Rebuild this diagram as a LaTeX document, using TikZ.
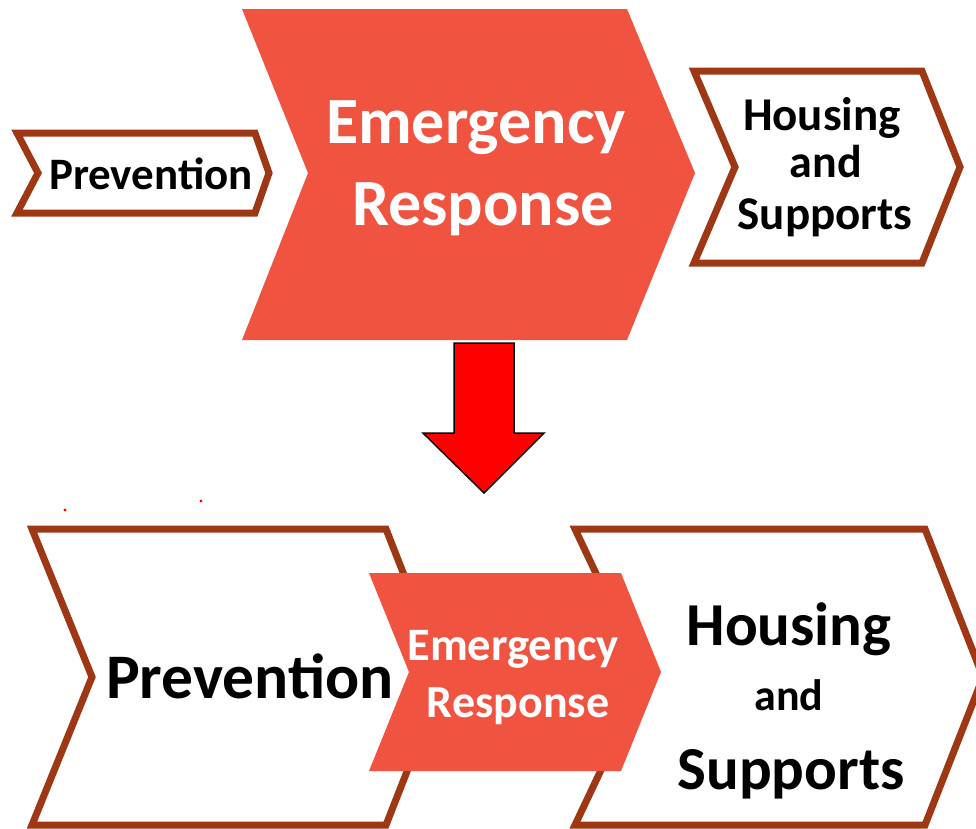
\documentclass[tikz,border=0pt]{standalone}
\usepackage{fontspec}
\setmainfont{Carlito}
\definecolor{chevred}{RGB}{241,83,65}
\definecolor{chevbrown}{RGB}{158,55,20}
\definecolor{arrowred}{RGB}{255,0,0}
\begin{document}
\begin{tikzpicture}[x=1pt,y=-1pt,
  outline/.style={draw=chevbrown, line width=7pt, fill=white, line join=miter},
  redshape/.style={fill=chevred},
  downarrow/.style={fill=arrowred, draw=black, line width=1.5pt, line join=miter},
  lbl/.style={anchor=base, inner sep=0pt, font=\bfseries},
  blk/.style={lbl, text=black},
  wht/.style={lbl, text=white},
  dot/.style={fill=red, draw=none}
]
\useasboundingbox (0,0) rectangle (976,828);
% top row
\draw[outline] (17,133) -- (255,133) -- (269,173) -- (255,213) -- (17,213) -- (38,173) -- cycle;
\fill[redshape] (242,9) -- (627,9) -- (695,173) -- (627,340) -- (242,340) -- (308,173) -- cycle;
\draw[outline] (694,71) -- (922,71) -- (960,167) -- (922,263) -- (694,263) -- (735,167) -- cycle;
\node[blk, font=\fontsize{45}{45}\selectfont\bfseries] (tprev) at (151,189) {Prevention};
\node[wht, font=\fontsize{66}{66}\selectfont\bfseries] (temer) at (476,143) {Emergency};
\node[wht, font=\fontsize{66}{66}\selectfont\bfseries] (tresp) at (483,225) {Response};
\node[blk, font=\fontsize{47}{47}\selectfont\bfseries] (thous) at (822,130) {Housing};
\node[blk, font=\fontsize{46}{46}\selectfont\bfseries] (tand) at (826,177) {and};
\node[blk, font=\fontsize{47}{47}\selectfont\bfseries] (tsupp) at (825,229) {Supports};
% arrow
\draw[downarrow] (454,343) -- (514,343) -- (514,433) -- (544,433) -- (484,493) -- (423,433) -- (454,433) -- cycle;
% stray dots
\fill[dot] (65,510) circle (1.6);
\fill[dot] (201,501) circle (1.6);
% bottom row
\draw[outline] (32,529) -- (386,529) -- (444,677) -- (386,825) -- (32,825) -- (92,677) -- cycle;
\draw[outline] (575,529) -- (925,529) -- (983,677) -- (925,825) -- (575,825) -- (645,677) -- cycle;
\fill[redshape] (369,573) -- (621,573) -- (661,672) -- (621,771) -- (369,771) -- (409,672) -- cycle;
\node[blk, font=\fontsize{63.5}{63.5}\selectfont\bfseries] (bprev) at (250,698) {Prevention};
\node[wht, font=\fontsize{46.5}{46.5}\selectfont\bfseries] (bemer) at (513,660) {Emergency};
\node[wht, font=\fontsize{46}{46}\selectfont\bfseries] (bresp) at (518,717) {Response};
\node[blk, font=\fontsize{61}{61}\selectfont\bfseries] (bhous) at (789,645) {Housing};
\node[blk, font=\fontsize{44}{44}\selectfont\bfseries] (band) at (789,710) {and};
\node[blk, font=\fontsize{61}{61}\selectfont\bfseries] (bsupp) at (791,789) {Supports};
\end{tikzpicture}
\end{document}
